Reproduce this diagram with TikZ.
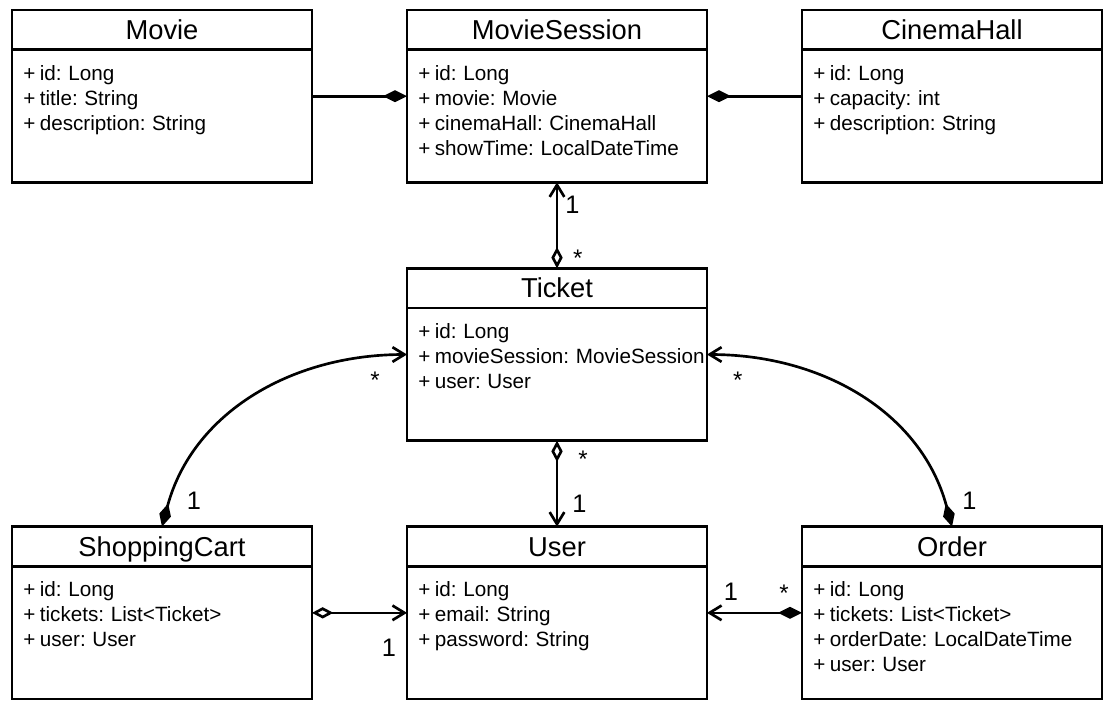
\documentclass[tikz,border=0pt]{standalone}
\usepackage{fontspec}
\setmainfont{Liberation Sans}
\usetikzlibrary{positioning, shapes.multipart, arrows.meta}

\newcommand{\ctitle}[1]{\noindent\makebox[208pt][c]{\fontsize{20.5}{24}\selectfont\rule[-6.75pt]{0pt}{27.75pt}#1}}
\newcommand{\cattr}[1]{\noindent\parbox[t][97.5pt][t]{240pt}{\fontsize{15.5}{18.75}\selectfont\rule{0pt}{21.75pt}#1}}

\begin{document}
\begin{tikzpicture}[node distance={64.5pt and 71.25pt}, line width=2pt,
    cls/.style = {draw, rectangle split, rectangle split parts=2, text width=208pt, inner xsep=8.5pt, inner ysep=0pt, outer sep=0pt, align=left},
    one/.style = {font=\fontsize{19}{22}\selectfont, inner sep=0pt},
    many/.style = {font=\fontsize{18}{22}\selectfont, inner sep=0pt},
    comp/.style = {-{Diamond[length=18pt, width=9pt]}},
    aggr/.style = {{Diamond[open, length=16pt, width=8.5pt]}-{Straight Barb[length=9pt, width=11pt]}},
    compnav/.style = {{Diamond[length=18pt, width=9pt]}-{Straight Barb[length=9pt, width=11pt]}}]
    \useasboundingbox (0,0) rectangle (837pt,-531pt);
    % classes
    \node[cls, anchor=north west] (movie) at (9pt,-7.5pt) {\ctitle{Movie}
        \nodepart{two}\cattr{+ id: Long\\+ title: String\\+ description: String}};
    \node[cls] (session) [right=of movie] {\ctitle{MovieSession}
        \nodepart{two}\cattr{+ id: Long\\+ movie: Movie\\+ cinemaHall: CinemaHall\\+ showTime: LocalDateTime}};
    \node[cls] (hall) [right=of session] {\ctitle{CinemaHall}
        \nodepart{two}\cattr{+ id: Long\\+ capacity: int\\+ description: String}};
    \node[cls] (ticket) [below=of session] {\ctitle{Ticket}
        \nodepart{two}\cattr{+ id: Long\\+ movieSession: MovieSession\\+ user: User}};
    \node[cls] (user) [below=of ticket] {\ctitle{User}
        \nodepart{two}\cattr{+ id: Long\\+ email: String\\+ password: String}};
    \node[cls] (cart) [left=of user] {\ctitle{ShoppingCart}
        \nodepart{two}\cattr{+ id: Long\\+ tickets: List<Ticket>\\+ user: User}};
    \node[cls] (order) [right=of user] {\ctitle{Order}
        \nodepart{two}\cattr{+ id: Long\\+ tickets: List<Ticket>\\+ orderDate: LocalDateTime\\+ user: User}};
    % associations
    \draw[comp] (movie.east) -- (session.west);
    \draw[comp] (hall.west) -- (session.east);
    \draw[aggr] (ticket.north) -- node[many, pos=0.12, right=11pt] {*} node[one, pos=0.74, right=5.25pt] {1} (session.south);
    \draw[aggr] (ticket.south) -- node[many, pos=0.22, right=15pt] {*} node[one, pos=0.735, right=10.5pt] {1} (user.north);
    \draw[compnav] (cart.north) to[out=75, in=180] node[one, pos=0, xshift=24pt, yshift=19.5pt] {1} node[many, pos=1, xshift=-24pt, yshift=-19pt] {*} (ticket.west);
    \draw[compnav] (order.north) to[out=105, in=0] node[one, pos=0, xshift=13pt, yshift=19.5pt] {1} node[many, pos=1, xshift=23pt, yshift=-19pt] {*} (ticket.east);
    \draw[aggr] (cart.east) -- node[one, pos=1, xshift=-13.5pt, yshift=-26pt] {1} (user.west);
    \draw[compnav] (order.west) -- node[many, pos=0, xshift=-13.5pt, yshift=14.5pt] {*} node[one, pos=1, xshift=18pt, yshift=15.75pt] {1} (user.east);
\end{tikzpicture}
\end{document}
